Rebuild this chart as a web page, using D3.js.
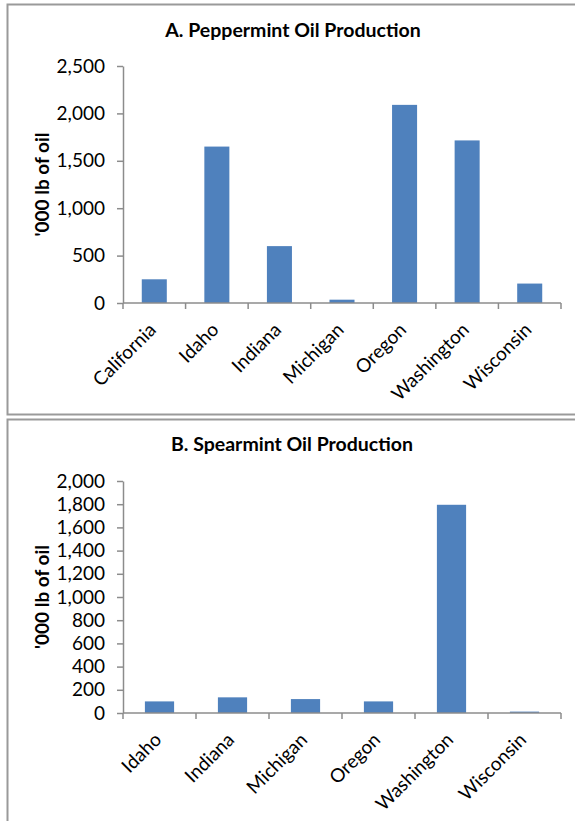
<!DOCTYPE html>
<html>
<head>
<meta charset="utf-8">
<script src="https://cdn.jsdelivr.net/npm/d3@7"></script>
<style>
  body { margin: 0; background: #fff; }
  text { font-family: Lato, "Open Sans", sans-serif; fill: #000; }
</style>
</head>
<body>
<div id="chart"></div>
<script>
// Data
const pepperStates = ["California", "Idaho", "Indiana", "Michigan", "Oregon", "Washington", "Wisconsin"];
const pepperValues = [250, 1650, 600, 35, 2090, 1715, 205];
const pepperTicks = [0, 500, 1000, 1500, 2000, 2500];

const spearStates = ["Idaho", "Indiana", "Michigan", "Oregon", "Washington", "Wisconsin"];
const spearValues = [100, 135, 120, 100, 1795, 12];
const spearTicks = [0, 200, 400, 600, 800, 1000, 1200, 1400, 1600, 1800, 2000];

const W = 575, H = 821;
const axisColor = "#8c8c8c";
const barColor = "#4F81BD";

const svg = d3.select("#chart").append("svg")
    .attr("width", W)
    .attr("height", H);

// chart area borders
svg.append("rect").attr("x", 7.5).attr("y", 4.5).attr("width", 580).attr("height", 410)
    .attr("fill", "none").attr("stroke", "#9a9a9a").attr("stroke-width", 2);
svg.append("rect").attr("x", 7.5).attr("y", 419.5).attr("width", 580).attr("height", 420)
    .attr("fill", "none").attr("stroke", "#9a9a9a").attr("stroke-width", 2);

function drawPanel(cfg) {
    const g = svg.append("g");

    const x = d3.scaleBand()
        .domain(cfg.cats)
        .range([cfg.left, cfg.right])
        .paddingInner(0.6)
        .paddingOuter(0.3);

    const y = d3.scaleLinear()
        .domain([0, d3.max(cfg.ticks)])
        .range([cfg.bottom, cfg.top]);

    // title
    g.append("text")
        .attr("x", cfg.titleX)
        .attr("y", cfg.titleY)
        .attr("text-anchor", "middle")
        .style("font-size", "19.5px")
        .style("font-weight", "bold")
        .text(cfg.title);

    // y axis
    const yAxis = g.append("g")
        .attr("transform", "translate(" + cfg.left + ",0)")
        .call(d3.axisLeft(y).tickValues(cfg.ticks).tickSizeOuter(0).tickSizeInner(6).tickPadding(12)
            .tickFormat(d3.format(",")));
    yAxis.select(".domain").attr("stroke", axisColor).attr("stroke-width", 1.5);
    yAxis.selectAll(".tick line").attr("stroke", axisColor).attr("stroke-width", 1.5);
    yAxis.selectAll(".tick text").style("font-size", "19px").style("font-family", "Lato, sans-serif");

    // y label
    g.append("text")
        .attr("transform", "translate(" + cfg.ylabX + "," + (cfg.top + cfg.bottom) / 2 + ") rotate(-90)")
        .attr("text-anchor", "middle")
        .attr("dy", "0.35em")
        .style("font-size", "19px")
        .style("font-weight", "bold")
        .text("'000 lb of oil");

    // bars
    g.append("g")
        .selectAll("rect")
        .data(cfg.vals)
        .enter()
        .append("rect")
        .attr("x", (d, i) => x(cfg.cats[i]))
        .attr("width", x.bandwidth())
        .attr("y", d => y(d))
        .attr("height", d => cfg.bottom - y(d))
        .attr("fill", barColor);

    // x axis line with ticks at category boundaries
    const step = (cfg.right - cfg.left) / cfg.cats.length;
    g.append("line")
        .attr("x1", cfg.left).attr("x2", cfg.right)
        .attr("y1", cfg.bottom).attr("y2", cfg.bottom)
        .attr("stroke", axisColor).attr("stroke-width", 1.5);
    g.append("g")
        .selectAll("line")
        .data(d3.range(cfg.cats.length + 1))
        .enter()
        .append("line")
        .attr("x1", i => cfg.left + i * step).attr("x2", i => cfg.left + i * step)
        .attr("y1", cfg.bottom).attr("y2", cfg.bottom + 6)
        .attr("stroke", axisColor).attr("stroke-width", 1.5);

    // rotated category labels
    g.append("g")
        .selectAll("text")
        .data(cfg.cats)
        .enter()
        .append("text")
        .attr("transform", d => "translate(" + (x(d) + x.bandwidth() / 2 + 3) + "," + (cfg.bottom + 28) + ") rotate(-45)")
        .attr("text-anchor", "end")
        .style("font-size", "19px")
        .text(d => d);
}

drawPanel({
    cats: pepperStates, vals: pepperValues, ticks: pepperTicks,
    title: "A. Peppermint Oil Production",
    left: 123, right: 561, top: 66, bottom: 303,
    titleX: 293, titleY: 37, ylabX: 42
});

drawPanel({
    cats: spearStates, vals: spearValues, ticks: spearTicks,
    title: "B. Spearmint Oil Production",
    left: 123, right: 561, top: 481, bottom: 713,
    titleX: 292, titleY: 451, ylabX: 42
});
</script>
</body>
</html>
